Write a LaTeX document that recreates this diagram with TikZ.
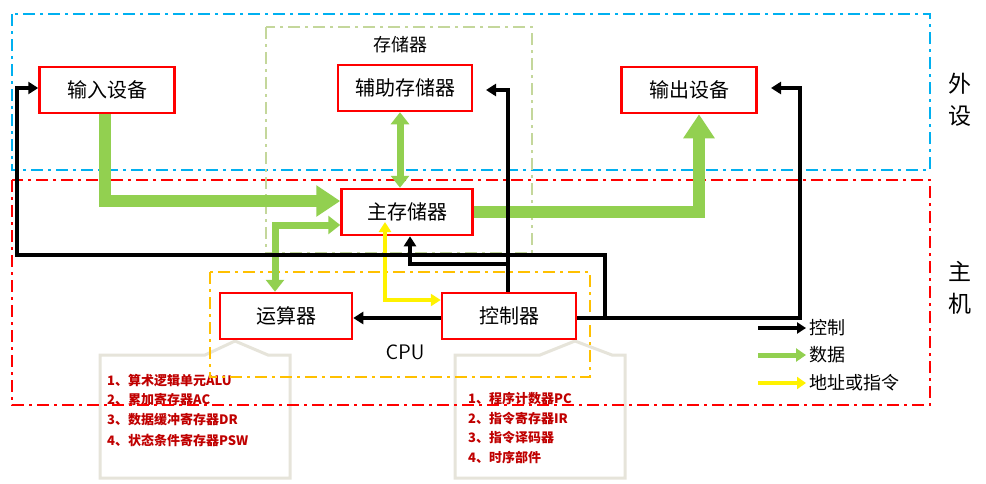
\documentclass[tikz,border=0pt]{standalone}
\usepackage{fontspec}
\setmainfont{Noto Sans CJK SC}
\usetikzlibrary{arrows.meta}
\definecolor{dred}{HTML}{C00000}
\definecolor{gr}{HTML}{92D050}
\definecolor{bl}{HTML}{00B0F0}
\definecolor{org}{HTML}{FFC000}
\definecolor{lg}{HTML}{C4D79B}
\definecolor{bei}{HTML}{E6E4DA}
\begin{document}
\begin{tikzpicture}[x=1pt,y=-1pt,
 box/.style={draw=red,line width=2.5pt,fill=white,minimum height=46pt,font=\fontsize{20}{22}\selectfont,inner sep=0pt},
 frame/.style={line width=2.5pt,dash pattern=on 12pt off 5pt on 3pt off 5pt},
 blk/.style={line width=3.5pt,-{Triangle[width=12pt,length=10pt]}},
 grn/.style={gr,line width=12pt,-{Triangle[width=30pt,length=24pt]}},
 grs/.style={gr,line width=7pt,{Triangle[width=18pt,length=12pt]}-{Triangle[width=18pt,length=12pt]}},
 yel/.style={yellow,line width=4pt,{Triangle[width=12pt,length=10pt]}-{Triangle[width=12pt,length=10pt]}},
 call/.style={draw=bei,line width=3pt,fill=white},
 ctext/.style={dred,font=\bfseries\fontsize{13}{15}\selectfont,anchor=west,inner sep=0pt}]
\useasboundingbox (0,0) rectangle (986,483);
% callouts
\draw[call] (100,355)--(205,355)--(235,341)--(268,355)--(290,355)--(290,478)--(100,478)--cycle;
\draw[call] (455,355)--(540,355)--(575,341)--(612,355)--(625,355)--(625,478)--(455,478)--cycle;
\node[ctext] (l1) at (107,381) {1、算术逻辑单元ALU};
\node[ctext] (l2) at (107,400) {2、累加寄存器AC};
\node[ctext] (l3) at (107,420) {3、数据缓冲寄存器DR};
\node[ctext] (l4) at (107,440) {4、状态条件寄存器PSW};
\node[ctext] (r1) at (468,399) {1、程序计数器PC};
\node[ctext] (r2) at (468,419) {2、指令寄存器IR};
\node[ctext] (r3) at (468,438) {3、指令译码器};
\node[ctext] (r4) at (468,458) {4、时序部件};
% frames
\draw[frame,bl] (12,14) rectangle (930,170);
\draw[frame,red] (12,180) rectangle (930,405);
\draw[frame,lg] (266,27) rectangle (532,253);
\draw[frame,org] (210,272) rectangle (590,377);
\node (st) at (400,45) {\fontsize{18}{20}\selectfont 存储器};
\node (cpu) at (405,352) {\fontsize{21}{23}\selectfont\sffamily CPU};
\node[align=center,font=\fontsize{23}{32}\selectfont] (wai) at (960,100) {外\\设};
\node[align=center,font=\fontsize{23}{32}\selectfont] (zhu) at (960,288) {主\\机};
% boxes
\node[box,minimum width=135pt] (in) at (107,90) {输入设备};
\node[box,minimum width=134pt] (aux) at (405,88) {辅助存储器};
\node[box,minimum width=135pt] (out) at (689,90) {输出设备};
\node[box,minimum width=131pt] (mem) at (407,212) {主存储器};
\node[box,minimum width=132pt] (alu) at (286,316) {运算器};
\node[box,minimum width=134pt] (cu) at (509,316) {控制器};
\coordinate (ae) at (486,90);
\coordinate (oe) at (771,88);
% green arrows
\draw[grn] (in.south-|105,0) |- (mem.west|-0,201);
\draw[grn] (mem.east|-0,212) -| (out.south-|699,0);
\draw[grs] (aux.south-|400,0) -- (mem.north-|400,0);
\draw[grs] (alu.north-|275,0) |- (mem.west|-0,225);
% yellow
\draw[yel] (385,222) |- (cu.west|-0,300);
% black
\draw[blk] (cu.west|-0,318) -- (alu.east|-0,318);
\draw[blk] (cu.north-|508,0) |- (ae);
\coordinate (j1) at (508,264);
\draw[blk] (j1) -| (mem.south-|410,0);
\coordinate (j2) at (605,318);
\draw[blk] (cu.east|-0,318) -| (800,88) -- (oe);
\draw[blk] (j2) |- (17,255) |- (in.west|-0,88);
% legend
\coordinate (a1) at (758,328); \coordinate (a2) at (758,355); \coordinate (a3) at (758,383);
\node[anchor=west,font=\fontsize{18}{20}\selectfont] (t1) at (806,328) {控制};
\node[anchor=west,font=\fontsize{18}{20}\selectfont] (t2) at (806,355) {数据};
\node[anchor=west,font=\fontsize{18}{20}\selectfont] (t3) at (806,383) {地址或指令};
\draw[line width=3.5pt,-{Triangle[width=11pt,length=9pt]}] (a1) -- (t1.west);
\draw[gr,line width=5pt,-{Triangle[width=13pt,length=10pt]}] (a2) -- (t2.west);
\draw[yellow,line width=4pt,-{Triangle[width=12pt,length=9pt]}] (a3) -- (t3.west);
\end{tikzpicture}
\end{document}
